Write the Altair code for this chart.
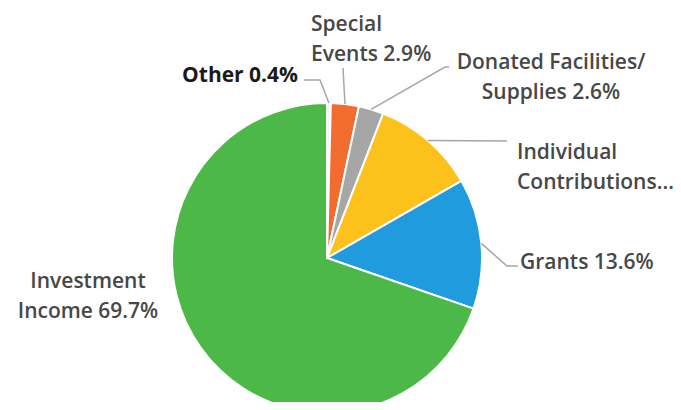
import math
import altair as alt
import pandas as pd

# ---- data ----
categories = ["Other", "Special Events", "Donated Facilities/Supplies",
              "Individual Contributions", "Grants", "Investment Income"]
values = [0.4, 2.9, 2.6, 10.8, 13.6, 69.7]
label_lines = [["Other 0.4%"], ["Special", "Events 2.9%"],
               ["Donated Facilities/", "Supplies 2.6%"],
               ["Individual", "Contributions..."], ["Grants 13.6%"],
               ["Investment", "Income 69.7%"]]

# ---- styles / layout ----
colors = ["#f4f4f4", "#f26b2f", "#a6a6a6", "#fcc21b", "#1f9bde", "#4cb848"]
CX, CY, R = 319, 250, 155
LINE_H = 30
label_pos = {  # x, y of first line, align
    "Other": (290, 68, "right"),
    "Special Events": (303, 17, "left"),
    "Donated Facilities/Supplies": (543, 55, "center"),
    "Individual Contributions": (509, 145, "left"),
    "Grants": (512, 255, "left"),
    "Investment Income": (80, 274, "center"),
}
leader_elbows = {
    "Other": [(312, 72), (296, 72)],
    "Special Events": [(335, 60)],
    "Donated Facilities/Supplies": [(437, 59), (441, 59)],
    "Individual Contributions": [(499, 133)],
    "Grants": [(499, 258), (510, 258)],
}

df = pd.DataFrame({"category": categories, "value": values,
                   "idx": range(len(categories))})

# label text rows
rows = []
for cat, lines in zip(categories, label_lines):
    x0, y0, al = label_pos[cat]
    for i, t in enumerate(lines):
        rows.append({"category": cat, "text": t, "x": x0, "y": y0 + i * LINE_H, "align": al})
lab = pd.DataFrame(rows)

# leader lines: start at slice mid-angle on the rim
total = sum(values)
cum = 0.0
lrows = []
for cat, v in zip(categories, values):
    mid = 2 * math.pi * (cum + v / 2) / total
    cum += v
    if cat not in leader_elbows:
        continue
    pts = [(CX + R * math.sin(mid), CY - R * math.cos(mid))] + leader_elbows[cat]
    for k, (px, py) in enumerate(pts):
        lrows.append({"category": cat, "seq": k, "x": px, "y": py})
lead = pd.DataFrame(lrows)

pie = alt.Chart(df).mark_arc(outerRadius=R, stroke="white", strokeWidth=2).encode(
    theta=alt.Theta("value:Q", stack=True),
    color=alt.Color("category:N", scale=alt.Scale(domain=categories, range=colors), legend=None),
    order=alt.Order("idx:Q"),
    x=alt.value(CX), y=alt.value(CY),
)

leaders = alt.Chart(lead).mark_line(color="#a6a6a6", strokeWidth=1.5).encode(
    x=alt.X("x:Q", scale=None), y=alt.Y("y:Q", scale=None),
    detail="category:N", order="seq:Q",
)

def text_layer(al, weight, color):
    return alt.Chart(lab).transform_filter(alt.datum.align == al).mark_text(
        align=al, baseline="middle", font="Open Sans", fontSize=21,
        fontWeight=weight, color=color,
    ).encode(x=alt.X("x:Q", scale=None), y=alt.Y("y:Q", scale=None), text="text:N")

chart = alt.layer(
    pie, leaders,
    text_layer("left", 600, "#474747"),
    text_layer("center", 600, "#474747"),
    text_layer("right", 700, "#1a1a1a"),
).properties(
    width=665, height=394, padding=0,
    autosize=alt.AutoSizeParams(type="none"),
).configure_view(stroke=None)

chart.save("out.html", embed_options={"renderer": "svg", "actions": False})
